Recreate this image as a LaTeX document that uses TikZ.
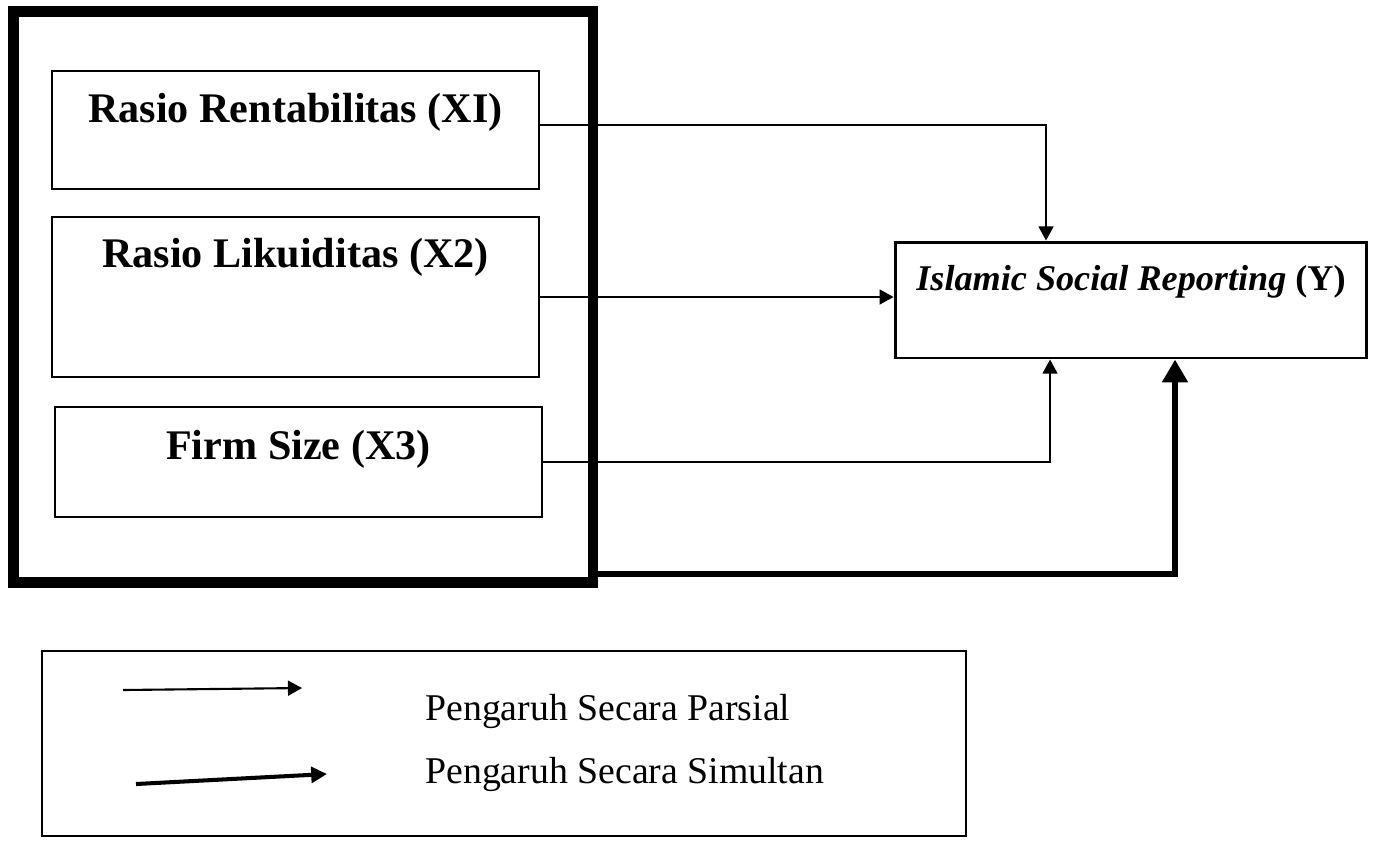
\documentclass[tikz,border=0pt]{standalone}
\usepackage{fontspec}
\setmainfont{Liberation Serif}
\usetikzlibrary{arrows.meta, calc}
\tikzset{
  varbox/.style={draw, line width=0.75pt, minimum width=9.74cm, inner sep=0pt, text height=0.6cm,
    font=\fontsize{24}{29}\selectfont\bfseries},
  ybox/.style={draw, line width=1.7pt, minimum width=9.44cm, minimum height=2.32cm, inner sep=0pt,
    text height=0.6cm, text depth=1.0cm, font=\fontsize{20.6}{25}\selectfont\bfseries},
  group/.style={draw, line width=6.2pt, minimum width=11.6cm, minimum height=11.43cm},
  legendbox/.style={draw, line width=1.1pt, minimum width=18.48cm, minimum height=3.7cm},
  legtext/.style={font=\fontsize{21.5}{26}\selectfont, inner sep=0pt, anchor=base west},
  partial/.style={-{Triangle[length=8pt, width=8.5pt]}, line width=0.75pt},
  simul/.style={-{Triangle[length=13pt, width=14pt]}, line width=3.4pt},
}

\begin{document}
\begin{tikzpicture}[x=0.02cm, y=-0.02cm]
  \useasboundingbox (0,0) rectangle (1388,840);
  % variabel independen
  \node[group] (grp) at (303,297) {};
  \node[varbox, minimum height=2.36cm, text depth=0.92cm] (x1) at (295.5,130) {Rasio Rentabilitas (XI)};
  \node[varbox, minimum height=3.2cm, text depth=1.8cm] (x2) at (295.5,297) {Rasio Likuiditas (X2)};
  \node[varbox, minimum height=2.2cm, text depth=0.72cm] (x3) at (298.5,462) {Firm Size (X3)};
  % variabel dependen
  \node[ybox] (isr) at (1131,300) {\textit{Islamic Social Reporting} (Y)};
  % pengaruh parsial
  \draw[partial] ([yshift=0.1cm]x1.east) -| ([xshift=-1.7cm]isr.north);
  \draw[partial, line width=1.1pt] (x2.east) -- (x2.east -| isr.west);
  \draw[partial] (x3.east) -| ([xshift=-1.62cm]isr.south);
  % pengaruh simultan
  \draw[simul] ([yshift=0.28cm]grp.south east) -| ([xshift=0.88cm]isr.south);
  % keterangan
  \node[legendbox] (leg) at (504,743.5) {};
  \coordinate (p1) at (123,690); \coordinate (p2) at (302,688);
  \coordinate (s1) at (136,784); \coordinate (s2) at (327,774);
  \draw[partial, line width=1.2pt] (p1) -- (p2);
  \draw[simul, line width=2.3pt, -{Triangle[length=9pt, width=9pt]}] (s1) -- (s2);
  \node[legtext] (tpar) at (425,720) {Pengaruh Secara Parsial};
  \node[legtext] (tsim) at (425,783) {Pengaruh Secara Simultan};
\end{tikzpicture}
\end{document}
